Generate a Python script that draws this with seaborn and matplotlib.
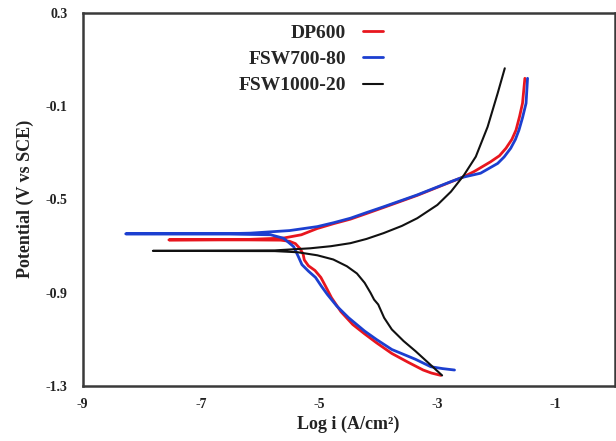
import matplotlib
matplotlib.use("Agg")
import matplotlib.pyplot as plt
import seaborn as sns
import pandas as pd

# ---- data (log i in A/cm2, potential in V vs SCE) ----
dp600_logi = [-2.94, -3.10, -3.24, -3.50, -3.77, -4.03, -4.23, -4.43, -4.63, -4.79,
              -4.89, -4.97, -5.07, -5.18, -5.25, -5.27, -5.32, -5.40, -5.50, -5.65,
              -6.20, -7.54, -6.20, -5.60, -5.30, -5.03, -4.75, -4.47, -4.20, -3.91,
              -3.34, -2.77, -2.58, -2.38, -2.10, -1.95, -1.84, -1.74, -1.67, -1.61,
              -1.56, -1.52]
dp600_E = [-1.255, -1.245, -1.232, -1.198, -1.161, -1.115, -1.077, -1.037, -0.982, -0.922,
           -0.873, -0.835, -0.805, -0.785, -0.760, -0.735, -0.712, -0.690, -0.680, -0.675,
           -0.674, -0.674, -0.672, -0.666, -0.652, -0.625, -0.604, -0.585, -0.561, -0.535,
           -0.483, -0.425, -0.406, -0.381, -0.339, -0.313, -0.281, -0.243, -0.203, -0.145,
           -0.088, 0.019]

fsw700_logi = [-2.71, -2.91, -3.11, -3.37, -3.77, -4.03, -4.23, -4.50, -4.70, -4.86,
               -4.96, -5.06, -5.18, -5.29, -5.35, -5.43, -5.60, -5.82, -6.50, -8.27,
               -6.50, -6.16, -5.50, -5.03, -4.75, -4.47, -4.20, -3.91, -3.34, -2.77,
               -2.58, -2.27, -1.98, -1.87, -1.76, -1.68, -1.62, -1.56, -1.50, -1.475]
fsw700_E = [-1.232, -1.226, -1.218, -1.186, -1.144, -1.101, -1.065, -1.008, -0.958, -0.908,
            -0.873, -0.835, -0.808, -0.780, -0.746, -0.703, -0.667, -0.652, -0.649, -0.648,
            -0.647, -0.645, -0.634, -0.617, -0.600, -0.581, -0.557, -0.532, -0.481, -0.424,
            -0.406, -0.388, -0.346, -0.318, -0.281, -0.243, -0.203, -0.150, -0.088, 0.019]

fsw1000_logi = [-2.92, -3.11, -3.37, -3.57, -3.77, -3.90, -4.00, -4.07, -4.13, -4.23,
                -4.36, -4.53, -4.76, -5.03, -5.36, -5.75, -7.81, -5.75, -5.15, -4.80,
                -4.47, -4.20, -3.91, -3.60, -3.34, -3.00, -2.77, -2.55, -2.35, -2.15,
                -1.98, -1.86]
fsw1000_E = [-1.255, -1.211, -1.151, -1.108, -1.058, -1.008, -0.951, -0.930, -0.901, -0.858,
             -0.818, -0.787, -0.758, -0.740, -0.727, -0.722, -0.721, -0.719, -0.710, -0.701,
             -0.688, -0.670, -0.645, -0.614, -0.581, -0.524, -0.467, -0.396, -0.317, -0.189,
             -0.045, 0.062]

series_names = ["DP600", "FSW700-80", "FSW1000-20"]
series_colors = ["#e8161e", "#1c3fd0", "#111111"]
series_widths = [2.0, 2.0, 1.5]
x_ticks = [-9, -7, -5, -3, -1]
y_ticks = [0.3, -0.1, -0.5, -0.9, -1.3]

sns.set_style("white")
plt.rcParams["font.family"] = ["Liberation Serif", "DejaVu Serif"]

fig = plt.figure(figsize=(6.16, 4.41), dpi=100)
ax = fig.add_axes([0.134, 0.125, 0.864, 0.846])

data = [(dp600_logi, dp600_E), (fsw700_logi, fsw700_E), (fsw1000_logi, fsw1000_E)]
for (xs, ys), name, col, lw in zip(data, series_names, series_colors, series_widths):
    df = pd.DataFrame({"logi": xs, "E": ys})
    sns.lineplot(data=df, x="logi", y="E", sort=False, estimator=None,
                 color=col, linewidth=lw, label=name, ax=ax)

ax.set_xlim(-9, 0)
ax.set_ylim(-1.3, 0.3)
ax.set_xticks(x_ticks)
ax.set_yticks(y_ticks)
ax.set_xticklabels([str(t) for t in x_ticks])
ax.set_yticklabels([f"{t:.1f}" for t in y_ticks])
ax.tick_params(axis="both", length=0, labelsize=10, colors="#222222")
ax.tick_params(axis="x", pad=9)
ax.tick_params(axis="y", pad=11)
for lab in ax.get_xticklabels() + ax.get_yticklabels():
    lab.set_fontweight("bold")

for sp in ax.spines.values():
    sp.set_visible(True)
    sp.set_color("#3a3a3a")
    sp.set_linewidth(1.8)

ax.set_xlabel("Log i (A/cm²)", fontsize=13, fontweight="bold", color="#222222", labelpad=3)
ax.set_ylabel("Potential (V vs SCE)", fontsize=13, fontweight="bold", color="#222222", labelpad=8)

leg = ax.legend(loc="upper right", bbox_to_anchor=(383 / 616, 1 - 24 / 441),
                bbox_transform=fig.transFigure, frameon=False, markerfirst=False,
                prop={"weight": "bold", "size": 14}, handlelength=1.03,
                handletextpad=0.88, labelspacing=0.45, borderpad=0, borderaxespad=0)

fig.savefig("out.png", dpi=100)
